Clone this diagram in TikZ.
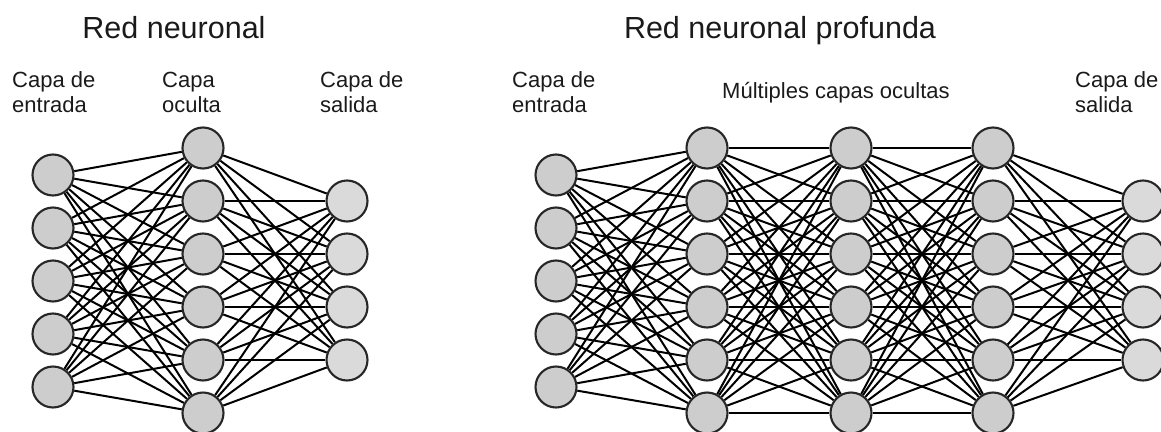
\documentclass[tikz,border=0pt]{standalone}
\usepackage{fontspec}
\setmainfont{Liberation Sans}
\usetikzlibrary{backgrounds}
\definecolor{nodefill}{HTML}{CDCDCD}
\definecolor{outfill}{HTML}{DADADA}
\definecolor{txt}{HTML}{1A1A1A}
\begin{document}
\begin{tikzpicture}[x=1pt,y=-1pt,
  neuron/.style={circle,draw=black!85,line width=2.1pt,fill=nodefill,minimum size=41pt,inner sep=0pt},
  outneuron/.style={neuron,fill=outfill},
  conn/.style={black,line width=2pt},
  title/.style={text=txt,font=\fontsize{30.5}{34}\selectfont,anchor=base,inner sep=0pt},
  lbl/.style={text=txt,font=\fontsize{22}{25}\selectfont,anchor=base west,inner sep=0pt,align=left}]
\useasboundingbox (0,0) rectangle (1161,431);
% titles and labels
\node[title] (t1) at (174,38) {Red neuronal};
\node[title] (t2) at (780,38) {Red neuronal profunda};
\node[lbl] (l1a) at (12,87) {Capa de};
\node[lbl] (l1b) at (12,112) {entrada};
\node[lbl] (l2a) at (162,87) {Capa};
\node[lbl] (l2b) at (162,112) {oculta};
\node[lbl] (l3a) at (320,87) {Capa de};
\node[lbl] (l3b) at (320,112) {salida};
\node[lbl] (r1a) at (512,87) {Capa de};
\node[lbl] (r1b) at (512,112) {entrada};
\node[lbl] (rm) at (722,98) {Múltiples capas ocultas};
\node[lbl] (r3a) at (1075,87) {Capa de};
\node[lbl] (r3b) at (1075,112) {salida};
% left network
\foreach \i in {0,...,4} \node[neuron] (a\i) at (53,175+53*\i) {};
\foreach \i in {0,...,5} \node[neuron] (b\i) at (203,148+53*\i) {};
\foreach \i in {0,...,3} \node[outneuron] (c\i) at (347,201+53*\i) {};
% right network
\foreach \i in {0,...,4} \node[neuron] (p\i) at (556,175+53*\i) {};
\foreach \i in {0,...,5} \node[neuron] (q\i) at (707,148+53*\i) {};
\foreach \i in {0,...,5} \node[neuron] (r\i) at (851,148+53*\i) {};
\foreach \i in {0,...,5} \node[neuron] (s\i) at (993,148+53*\i) {};
\foreach \i in {0,...,3} \node[outneuron] (u\i) at (1143,201+53*\i) {};
\begin{scope}[on background layer]
\foreach \i in {0,...,4} \foreach \j in {0,...,5} \draw[conn] (a\i) -- (b\j);
\foreach \i in {0,...,5} \foreach \j in {0,...,3} \draw[conn] (b\i) -- (c\j);
\foreach \i in {0,...,4} \foreach \j in {0,...,5} \draw[conn] (p\i) -- (q\j);
\foreach \i in {0,...,5} \foreach \j in {0,...,5} \draw[conn] (q\i) -- (r\j);
\foreach \i in {0,...,5} \foreach \j in {0,...,5} \draw[conn] (r\i) -- (s\j);
\foreach \i in {0,...,5} \foreach \j in {0,...,3} \draw[conn] (s\i) -- (u\j);
\end{scope}
\end{tikzpicture}
\end{document}
